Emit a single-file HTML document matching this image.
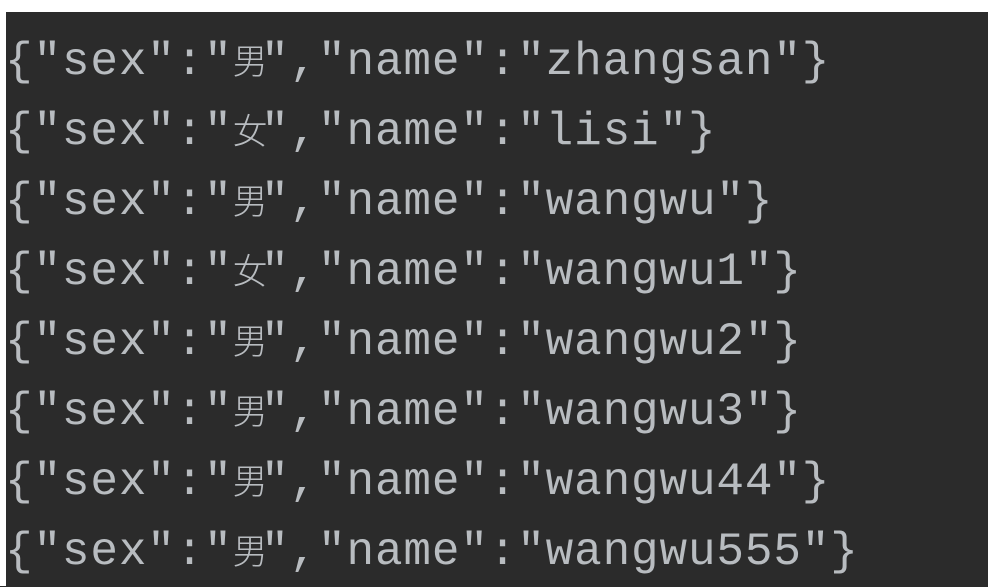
<!DOCTYPE html>
<html><head><meta charset="utf-8"><style>
html,body{margin:0;padding:0;background:#2b2b2b;}
body{width:988px;height:586px;overflow:hidden;position:relative;}
.wt{position:absolute;left:0;top:0;width:988px;height:12px;background:#fff;}
.wl{position:absolute;left:0;top:0;width:6px;height:586px;background:#fff;}
.l{position:absolute;left:5px;font-family:"Liberation Mono","Noto Sans CJK SC",monospace;font-size:46px;letter-spacing:0.85px;color:#b8bcc0;white-space:pre;line-height:70px;height:70px;}
.c{display:inline-block;width:28.5px;font-family:"Noto Sans CJK SC",sans-serif;font-size:35px;text-align:center;letter-spacing:0;font-weight:300;}
</style></head><body>
<div class="wt"></div><div class="wl"></div>
<div class="l" style="top:25px">{"sex":"<span class="c">男</span>","name":"zhangsan"}</div>
<div class="l" style="top:95px">{"sex":"<span class="c">女</span>","name":"lisi"}</div>
<div class="l" style="top:165px">{"sex":"<span class="c">男</span>","name":"wangwu"}</div>
<div class="l" style="top:235px">{"sex":"<span class="c">女</span>","name":"wangwu1"}</div>
<div class="l" style="top:305px">{"sex":"<span class="c">男</span>","name":"wangwu2"}</div>
<div class="l" style="top:375px">{"sex":"<span class="c">男</span>","name":"wangwu3"}</div>
<div class="l" style="top:445px">{"sex":"<span class="c">男</span>","name":"wangwu44"}</div>
<div class="l" style="top:515px">{"sex":"<span class="c">男</span>","name":"wangwu555"}</div>
</body></html>
